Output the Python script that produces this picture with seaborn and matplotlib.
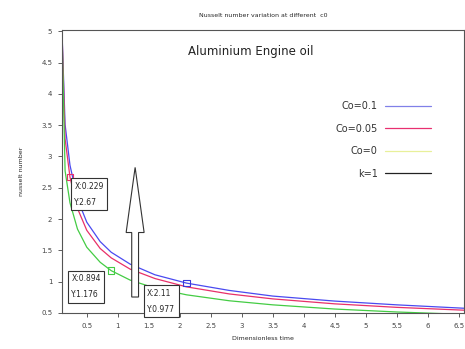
import numpy as np
import pandas as pd
import matplotlib
matplotlib.use("Agg")
import matplotlib.pyplot as plt
from matplotlib.patches import FancyArrow
from matplotlib.lines import Line2D
import seaborn as sns

# Data
time = [0.1, 0.15, 0.229, 0.35, 0.5, 0.716, 0.894, 1.2, 1.6, 2.11, 2.8, 3.5, 4.5, 5.5, 6.6]
nu_co01 = [5.0, 3.51, 2.86, 2.32, 1.95, 1.64, 1.47, 1.28, 1.11, 0.977, 0.86, 0.77, 0.69, 0.63, 0.575]
nu_co005 = [5.0, 3.28, 2.67, 2.17, 1.82, 1.53, 1.38, 1.20, 1.05, 0.917, 0.804, 0.725, 0.646, 0.59, 0.544]
nu_co0 = [5.0, 2.77, 2.26, 1.84, 1.55, 1.31, 1.176, 1.025, 0.897, 0.79, 0.695, 0.63, 0.563, 0.516, 0.477]
series_names = ["Co=0.1", "Co=0.05", "Co=0"]
legend_labels = ["Co=0.1", "Co=0.05", "Co=0", "k=1"]

tip_x = [0.229, 0.894, 2.11]
tip_y = [2.67, 1.176, 0.977]
tip_text = ["X:0.229\nY:2.67", "X:0.894\nY:1.176", "X:2.11\nY:0.977"]

xticks = [0.5, 1, 1.5, 2, 2.5, 3, 3.5, 4, 4.5, 5, 5.5, 6, 6.5]
xticklabels = ["0.5", "1", "1.5", "2", "2.5", "3", "3.5", "4", "4.5", "5", "5.5", "6", "6.5"]
yticks = [0.5, 1, 1.5, 2, 2.5, 3, 3.5, 4, 4.5, 5]
yticklabels = ["0.5", "1", "1.5", "2", "2.5", "3", "3.5", "4", "4.5", "5"]

df = pd.DataFrame({
    "time": time * 3,
    "nu": nu_co01 + nu_co005 + nu_co0,
    "series": [series_names[0]] * len(time) + [series_names[1]] * len(time) + [series_names[2]] * len(time),
})

sns.set_style("ticks")
plt.rcParams['font.family'] = ['DejaVu Sans']

line_colors = {"Co=0.1": "#4a4af0", "Co=0.05": "#e8306a", "Co=0": "#44cc44"}
legend_colors = ["#8080e8", "#e83070", "#e8f09a", "#222222"]
tip_colors = ["#e8306a", "#44cc44", "#3a3ad8"]

fig = plt.figure(figsize=(4.65, 3.49), dpi=100)
ax = fig.add_axes([0.1333, 0.1032, 0.8645, 0.811])

sns.lineplot(data=df, x="time", y="nu", hue="series", palette=line_colors,
             linewidth=0.9, legend=False, ax=ax)

ax.set_xlim(0.1, 6.585)
ax.set_ylim(0.5, 5.02)
ax.set_xticks(xticks)
ax.set_xticklabels(xticklabels, fontsize=5)
ax.set_yticks(yticks)
ax.set_yticklabels(yticklabels, fontsize=5)
ax.tick_params(length=3, width=0.6, pad=4, colors="#444444")
for s in ax.spines.values():
    s.set_linewidth(0.8)
    s.set_color("#555555")

ax.set_title("Nusselt number variation at different  c0", fontsize=4.5, pad=9)
ax.set_xlabel("Dimensionless time", fontsize=4.5, labelpad=5)
ax.set_ylabel("nusselt number", fontsize=4.5, labelpad=12)

ax.text(3.15, 4.68, "Aluminium Engine oil", fontsize=8.5, ha="center", va="center", color="#222222")

# data tip markers and boxes
ax.scatter(tip_x, tip_y, marker="s", s=22, facecolors="none", edgecolors=tip_colors, linewidths=0.8, zorder=5)
box_pos = [(0.30, 2.40), (0.25, 0.915), (1.475, 0.69)]
for (bx, by), t in zip(box_pos, tip_text):
    ax.text(bx, by, t, fontsize=5.5, ha="left", va="center", linespacing=2.0,
            bbox=dict(boxstyle="square,pad=0.45", fc="white", ec="#333333", lw=0.8), zorder=6)

# big hollow arrow
ax.add_patch(FancyArrow(1.28, 0.755, 0, 2.07, width=0.11, head_width=0.29, head_length=1.04,
                        length_includes_head=True, fc="white", ec="#333333", lw=0.8, zorder=4))

handles = [Line2D([0], [0], color=c, lw=0.9) for c in legend_colors]
leg = ax.legend(handles, legend_labels, loc="upper right", bbox_to_anchor=(0.94, 0.78),
                frameon=False, markerfirst=False, fontsize=7, labelspacing=1.3,
                handlelength=4.7, handletextpad=0.8)
for t in leg.get_texts():
    t.set_color("#333333")

fig.savefig("out.png", dpi=100)
